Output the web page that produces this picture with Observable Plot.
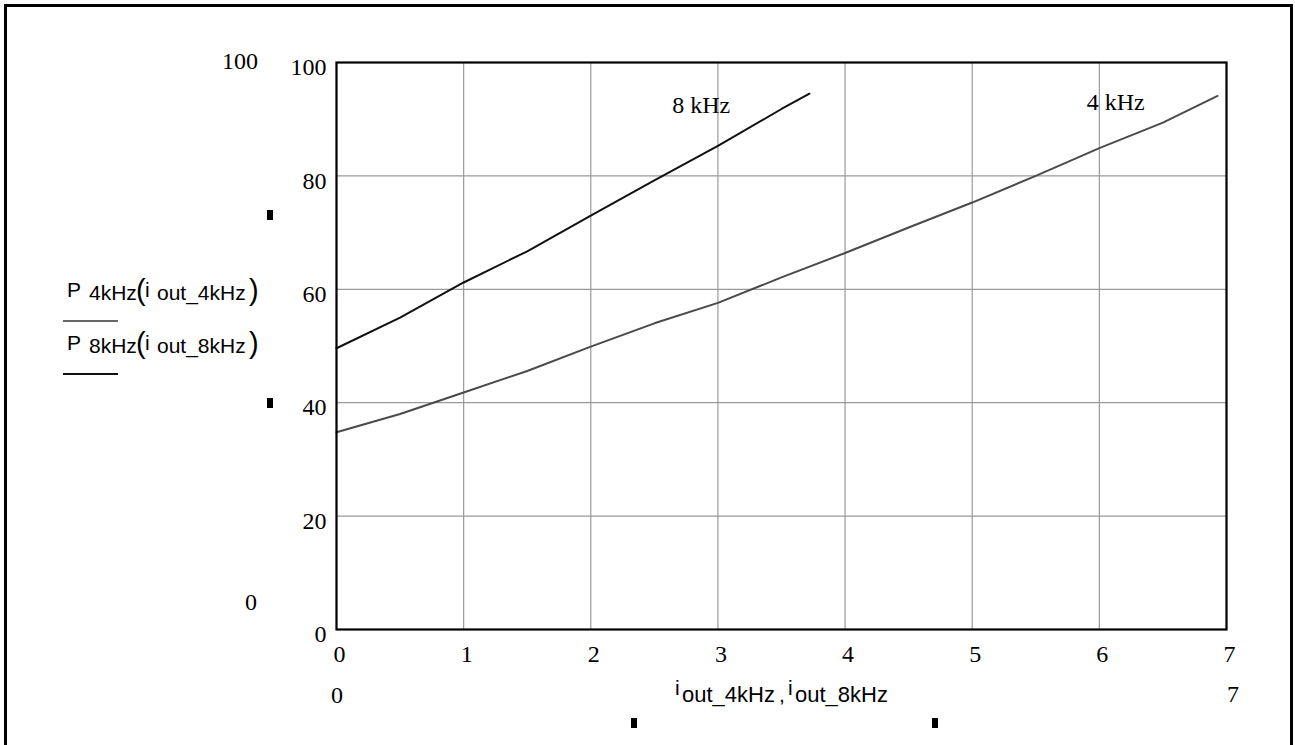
<!DOCTYPE html>
<html>
<head>
<meta charset="utf-8">
<script src="https://cdn.jsdelivr.net/npm/d3@7"></script>
<script src="https://cdn.jsdelivr.net/npm/@observablehq/plot@0.6"></script>
<style>
  html, body { margin: 0; padding: 0; background: #fff; }
  #wrap { position: relative; width: 1295px; height: 745px; overflow: hidden; }
  #border { position: absolute; left: 4px; top: 4px; width: 1283px; height: 760px;
            border: 3px solid #000; border-bottom: none; }
  #chart { position: absolute; left: 0; top: 0; }
  #overlay { position: absolute; left: 0; top: 0; }
</style>
</head>
<body>
<div id="wrap">
  <div id="border"></div>
  <div id="chart"></div>
  <svg id="overlay" width="1295" height="745"></svg>
</div>
<script>
// ---- data ----
const i4 = [0, 0.5, 1, 1.5, 2, 2.5, 3, 3.5, 4, 4.5, 5, 5.5, 6, 6.5, 6.93];
const p4 = [34.8, 38.0, 41.8, 45.6, 49.9, 54.0, 57.6, 62.1, 66.4, 70.9, 75.3, 80.0, 84.9, 89.4, 94.1];
const i8 = [0, 0.5, 1, 1.5, 2, 2.5, 3, 3.5, 3.72];
const p8 = [49.6, 55.0, 61.2, 66.7, 73.0, 79.2, 85.3, 91.8, 94.5];
const xTicks = [0, 1, 2, 3, 4, 5, 6, 7];
const yTicks = [0, 20, 40, 60, 80, 100];
const curveLabels = ["8 kHz", "4 kHz"];
const labelX = [2.64, 5.9];
const labelY = [91.1, 91.6];

const d4 = i4.map((x, k) => ({x, y: p4[k]}));
const d8 = i8.map((x, k) => ({x, y: p8[k]}));
const lab = curveLabels.map((t, k) => ({t, x: labelX[k], y: labelY[k]}));

const SERIF = "'Liberation Serif', 'Times New Roman', serif";
const SANS = "'Liberation Sans', Arial, sans-serif";

const chart = Plot.plot({
  width: 1295,
  height: 745,
  marginLeft: 336,
  marginRight: 69,
  marginTop: 62,
  marginBottom: 116,
  style: {fontFamily: SERIF, fontSize: "24px", background: "transparent", color: "#000"},
  x: {domain: [0, 7]},
  y: {domain: [0, 100]},
  marks: [
    Plot.gridX(xTicks, {stroke: "#9a9a9a", strokeOpacity: 1, strokeWidth: 1.2}),
    Plot.gridY(yTicks, {stroke: "#9a9a9a", strokeOpacity: 1, strokeWidth: 1.2}),
    Plot.axisX({ticks: xTicks, tickSize: 0, tickPadding: 15, dx: 3, label: null, fontSize: 24, tickFormat: d => String(d)}),
    Plot.axisY({ticks: yTicks, tickSize: 0, tickPadding: 10, dy: 5, label: null, fontSize: 24, tickFormat: d => String(d)}),
    Plot.line(d4, {x: "x", y: "y", stroke: "#4a4a4a", strokeWidth: 2}),
    Plot.line(d8, {x: "x", y: "y", stroke: "#111", strokeWidth: 2}),
    Plot.frame({stroke: "#000", strokeWidth: 2.2}),
    Plot.text(lab, {x: "x", y: "y", text: "t", textAnchor: "start", lineAnchor: "bottom", fontSize: 24, fill: "#000"})
  ]
});
document.getElementById("chart").appendChild(chart);

// ---- Mathcad-style annotations around the plot ----
const ov = d3.select("#overlay");
function t(x, y, s, opts = {}) {
  return ov.append("text").attr("x", x).attr("y", y)
    .attr("font-family", opts.font || SERIF).attr("font-size", opts.size || 24)
    .attr("text-anchor", opts.anchor || "start").attr("fill", "#000").text(s);
}
// axis limit labels
t(222, 69, "100");
t(245, 610, "0");
t(331, 703, "0");
t(1227, 702, "7");

// y legend labels
function legend(y, freq, stroke) {
  t(67, y, "P", {font: SANS, size: 21});
  t(89, y + 3, freq, {font: SANS, size: 21});
  t(136, y + 3, "(", {font: SANS, size: 29});
  t(145, y, "i", {font: SANS, size: 21});
  t(157, y + 3, "out_" + freq, {font: SANS, size: 21});
  t(249, y + 3, ")", {font: SANS, size: 29});
  ov.append("line").attr("x1", 63).attr("x2", 118).attr("y1", y + 24).attr("y2", y + 24)
    .attr("stroke", stroke).attr("stroke-width", 2);
}
legend(297, "4kHz", "#666");
legend(350, "8kHz", "#111");

// x label
t(675, 695, "i", {font: SANS, size: 21});
t(682, 702, "out_4kHz", {font: SANS, size: 22});
t(779, 702, ",", {font: SANS, size: 21});
t(788, 695, "i", {font: SANS, size: 21});
t(795, 702, "out_8kHz", {font: SANS, size: 22});

// placeholder marks
[[267, 210], [267, 398], [631, 718], [932, 718]].forEach(([x, y]) => {
  ov.append("rect").attr("x", x).attr("y", y).attr("width", 6).attr("height", 10).attr("fill", "#000");
});
</script>
</body>
</html>
